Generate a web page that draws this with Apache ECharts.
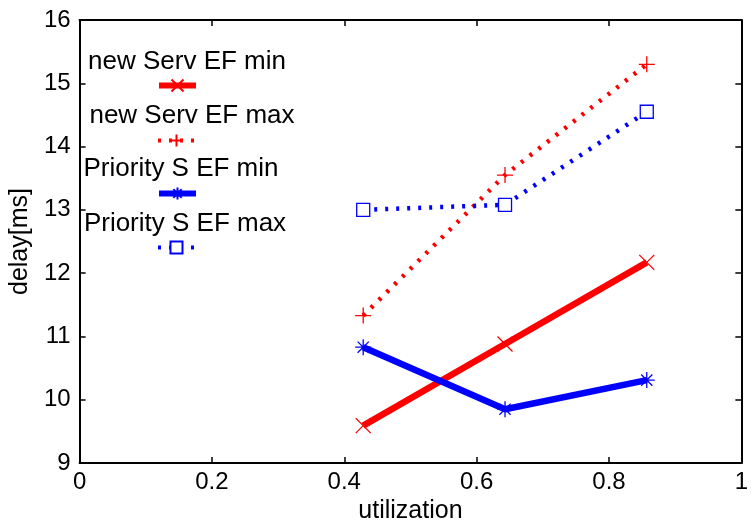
<!DOCTYPE html>
<html>
<head>
<meta charset="utf-8">
<script src="https://cdn.jsdelivr.net/npm/echarts@6/dist/echarts.min.js"></script>
<style>
  html, body { margin: 0; padding: 0; background: #fff; }
  #chart { width: 751px; height: 529px; }
</style>
</head>
<body>
<div id="chart"></div>
<script>
// utilization values (x) and measured delays (y)
var utilization = [0.4286, 0.6429, 0.8571];
var newServMin = [9.59, 10.88, 12.17];
var newServMax = [11.33, 13.55, 15.30];
var prioMin = [10.83, 9.85, 10.31];
var prioMax = [13.00, 13.08, 14.55];
var seriesNames = ['new Serv EF min', 'new Serv EF max', 'Priority S EF min', 'Priority S EF max'];

var FONT = '"Liberation Sans", Arial, sans-serif';
var crossPath = 'path://M0,0L10,10M10,0L0,10';
var plusPath = 'path://M5,0L5,10M0,5L10,5';
var starPath = 'path://M5,0L5,10M0,5L10,5M1.5,1.5L8.5,8.5M8.5,1.5L1.5,8.5';

function pairs(xs, ys) {
  return xs.map(function (x, i) { return [x, ys[i]]; });
}

var chart = echarts.init(document.getElementById('chart'));

// one legend per entry so the text can sit above its sample line
var legendTops = [78, 133, 186, 240];
var legendWidths = [6, 4, 6, 4];
var legends = seriesNames.map(function (n, i) {
  return {
    data: [n],
    left: 156,
    top: legendTops[i],
    itemWidth: 37,
    itemHeight: 15,
    selectedMode: false,
    formatter: function () { return ''; },
    lineStyle: { width: legendWidths[i] },
    padding: 0
  };
});
var labelY = [62, 116, 169, 224];
var labelX = [187, 192, 181, 185];
var legendTexts = seriesNames.map(function (n, i) {
  return {
    type: 'text',
    x: labelX[i],
    y: labelY[i],
    style: {
      text: n, fill: '#000', font: '26px ' + FONT,
      textAlign: 'center', textVerticalAlign: 'middle'
    }
  };
});

var axisLine = { show: true, onZero: false, lineStyle: { color: '#000', width: 2 } };
var axisTick = { show: true, inside: true, length: 6, lineStyle: { color: '#000', width: 1.5 } };

chart.setOption({
  animation: false,
  backgroundColor: '#fff',
  grid: { left: 77, right: 5, top: 20, bottom: 66 },
  legend: legends,
  graphic: legendTexts,
  xAxis: [{
    type: 'value', min: 0, max: 1, interval: 0.2,
    name: 'utilization', nameLocation: 'middle', nameGap: 27,
    nameTextStyle: { fontFamily: FONT, fontSize: 25, color: '#000' },
    axisLine: axisLine, axisTick: axisTick,
    axisLabel: { fontFamily: FONT, fontSize: 24, color: '#000', margin: 7,
      formatter: function (v) { return v === 0 || v === 1 ? String(v) : v.toFixed(1); } },
    splitLine: { show: false }
  }, {
    type: 'value', position: 'top', min: 0, max: 1, interval: 0.2,
    axisLine: axisLine, axisTick: axisTick,
    axisLabel: { show: false }, splitLine: { show: false }
  }],
  yAxis: [{
    type: 'value', min: 9, max: 16, interval: 1,
    name: 'delay[ms]', nameLocation: 'middle', nameGap: 41,
    nameTextStyle: { fontFamily: FONT, fontSize: 25, color: '#000' },
    axisLine: axisLine, axisTick: axisTick,
    axisLabel: { fontFamily: FONT, fontSize: 24, color: '#000', margin: 9 },
    splitLine: { show: false }
  }, {
    type: 'value', position: 'right', min: 9, max: 16, interval: 1,
    axisLine: axisLine, axisTick: axisTick,
    axisLabel: { show: false }, splitLine: { show: false }
  }],
  series: [{
    name: seriesNames[0], type: 'line', data: pairs(utilization, newServMin),
    symbol: crossPath, symbolSize: 15,
    itemStyle: { color: '#ff0000', borderColor: '#ff0000', borderWidth: 1.3 },
    lineStyle: { color: '#ff0000', width: 6.5 }
  }, {
    name: seriesNames[1], type: 'line', data: pairs(utilization, newServMax),
    symbol: plusPath, symbolSize: 16,
    itemStyle: { color: '#ff0000', borderColor: '#ff0000', borderWidth: 1.3 },
    lineStyle: { color: '#ff0000', width: 4.5, type: [3, 8] }
  }, {
    name: seriesNames[2], type: 'line', data: pairs(utilization, prioMin),
    symbol: starPath, symbolSize: 16,
    itemStyle: { color: '#0000ff', borderColor: '#0000ff', borderWidth: 1.3 },
    lineStyle: { color: '#0000ff', width: 6.5 }
  }, {
    name: seriesNames[3], type: 'line', data: pairs(utilization, prioMax),
    symbol: 'rect', symbolSize: 13,
    itemStyle: { color: '#ffffff', borderColor: '#0000ff', borderWidth: 1.3 },
    lineStyle: { color: '#0000ff', width: 4.5, type: [3, 8] }
  }]
});
</script>
</body>
</html>
